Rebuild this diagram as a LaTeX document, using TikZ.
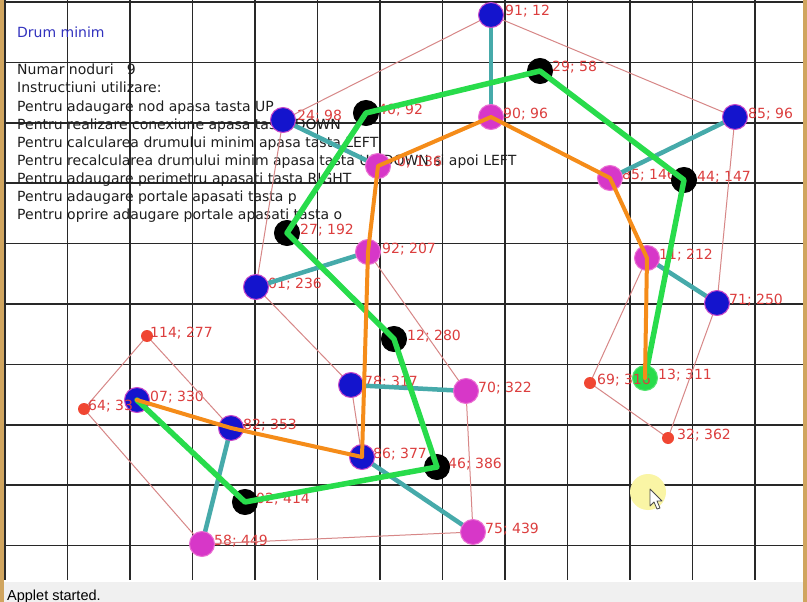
\documentclass[tikz,border=0pt]{standalone}
\usepackage{fontspec}
\setmainfont{DejaVu Sans}
\newfontfamily\statusfont{Liberation Sans}
\definecolor{gridc}{RGB}{40,40,40}
\definecolor{framec}{RGB}{208,165,95}
\definecolor{titleblue}{RGB}{50,50,190}
\definecolor{labred}{RGB}{220,62,62}
\definecolor{perimc}{RGB}{215,135,135}
\definecolor{tealc}{RGB}{70,170,170}
\definecolor{greenc}{RGB}{40,220,75}
\definecolor{orangec}{RGB}{245,140,25}
\definecolor{bluen}{RGB}{20,20,205}
\definecolor{magn}{RGB}{215,55,200}
\definecolor{ringc}{RGB}{200,70,200}
\definecolor{magring}{RGB}{235,110,210}
\definecolor{redn}{RGB}{240,70,50}
\definecolor{statusbg}{RGB}{240,240,240}
\definecolor{cursorhl}{RGB}{250,245,165}
\definecolor{textc}{RGB}{30,30,30}
\begin{document}
\begin{tikzpicture}[x=1pt,y=-1pt,
  bignode/.style={circle, minimum size=25pt, inner sep=0pt},
  bluenode/.style={bignode, fill=bluen, draw=ringc, line width=1pt},
  magnode/.style={bignode, fill=magn, draw=magring, line width=1pt},
  blacknode/.style={bignode, fill=black, draw=black, line width=1pt},
  greennode/.style={bignode, fill=greenc, draw=greenc!80!white, line width=1pt},
  portal/.style={circle, minimum size=12pt, inner sep=0pt, fill=redn},
  lab/.style={anchor=base west, inner sep=0pt, text=labred, font=\fontsize{14}{16}\selectfont},
  instr/.style={anchor=base west, inner sep=0pt, text=textc, font=\fontsize{14}{17}\selectfont},
  gridline/.style={draw=gridc, line width=1.6pt},
  perimline/.style={draw=perimc, line width=1pt},
  connline/.style={draw=tealc, line width=4.5pt},
  greenpath/.style={draw=greenc, line width=5.5pt, line join=round, line cap=round},
  orangepath/.style={draw=orangec, line width=4pt, line join=round, line cap=round}]
\useasboundingbox (0,0) rectangle (807,602);
% background
\fill[white] (0,0) rectangle (807,582);
\fill[statusbg] (0,582) rectangle (807,602);
% grid
\foreach \k in {0,...,12} {\draw[gridline] (5+62.5*\k,0) -- (5+62.5*\k,580);}
\foreach \k in {0,...,9} {\draw[gridline] (5,2+60.4*\k) -- (803,2+60.4*\k);}
% frame strips
\fill[framec] (0,0) rectangle (4,602);
\fill[framec] (803,0) rectangle (807,602);
% texts
\node[instr, text=titleblue] (title) at (17,38) {Drum minim};
\node[instr] (t1) at (17,75) {Numar noduri\hspace{13pt}9};
\node[instr] (t2) at (17,93) {Instructiuni utilizare:};
\node[instr] (t3) at (17,111) {Pentru adaugare nod apasa tasta UP};
\node[instr] (t4) at (17,129) {Pentru realizare conexiune apasa tasta DOWN};
\node[instr] (t5) at (17,147) {Pentru calcularea drumului minim apasa tasta LEFT};
\node[instr] (t6) at (17,165) {Pentru recalcularea drumului minim apasa tasta UP/DOWN si apoi LEFT};
\node[instr] (t7) at (17,183) {Pentru adaugare perimetru apasati tasta RIGHT};
\node[instr] (t8) at (17,201) {Pentru adaugare portale apasati tasta p};
\node[instr] (t9) at (17,219) {Pentru oprire adaugare portale apasati tasta o};
\node[anchor=base west, inner sep=0pt, font=\statusfont\fontsize{14.5}{16}\selectfont] (status) at (7,600) {Applet started.};
% vertex positions
\coordinate (v1) at (491,15);
\coordinate (v2) at (540,71);
\coordinate (v3) at (735,117);
\coordinate (v4) at (491,117);
\coordinate (v5) at (610,178);
\coordinate (v6) at (684,180);
\coordinate (v7) at (366,113);
\coordinate (v8) at (283,120);
\coordinate (v9) at (378,166);
\coordinate (v10) at (287,233);
\coordinate (v11) at (368,252);
\coordinate (v12) at (256,287);
\coordinate (v13) at (394,339);
\coordinate (v14) at (351,385);
\coordinate (v15) at (466,391);
\coordinate (v16) at (362,457);
\coordinate (v17) at (437,467);
\coordinate (v18) at (473,532);
\coordinate (v19) at (245,502);
\coordinate (v20) at (202,544);
\coordinate (v21) at (231,428);
\coordinate (v22) at (137,400);
\coordinate (v23) at (84,409);
\coordinate (v24) at (147,336);
\coordinate (v25) at (647,258);
\coordinate (v26) at (717,303);
\coordinate (v27) at (645,378);
\coordinate (v28) at (590,383);
\coordinate (v29) at (668,438);
% labels of large vertices
\node[lab] (l1) at (505,16) {91; 12};
\node[lab] (l2) at (552,72) {29; 58};
\node[lab] (l3) at (748,118) {85; 96};
\node[lab] (l4) at (503,118) {90; 96};
\node[lab] (l5) at (622,179) {85; 146};
\node[lab] (l6) at (697,181) {44; 147};
\node[lab] (l7) at (378,114) {40; 92};
\node[lab] (l8) at (297,121) {24; 98};
\node[lab] (l9) at (397,167) {0; 136};
\node[lab] (l10) at (300,234) {27; 192};
\node[lab] (l11) at (382,253) {92; 207};
\node[lab] (l12) at (268,288) {01; 236};
\node[lab] (l13) at (407,340) {12; 280};
\node[lab] (l14) at (364,386) {78; 317};
\node[lab] (l15) at (478,392) {70; 322};
\node[lab] (l16) at (373,458) {86; 377};
\node[lab] (l17) at (448,468) {46; 386};
\node[lab] (l18) at (485,533) {75; 439};
\node[lab] (l19) at (256,503) {02; 414};
\node[lab] (l20) at (214,545) {58; 449};
\node[lab] (l21) at (243,429) {82; 353};
\node[lab] (l22) at (150,401) {07; 330};
\node[lab] (l25) at (659,259) {11; 212};
\node[lab] (l26) at (729,304) {71; 250};
\node[lab] (l27) at (658,379) {13; 311};
% perimeter
\draw[perimline] (v8) -- (v1) -- (v3) -- (v26) -- (v29) -- (v28) -- (v25);
\draw[perimline] (v8) -- (v12) -- (v14) -- (v16);
\draw[perimline] (v11) -- (v15) -- (v18) -- (v20) -- (v23) -- (v24) -- (v21);
% connections
\draw[connline] (v1) -- (v4);
\draw[connline] (v8) -- (v9);
\draw[connline] (v3) -- (v5);
\draw[connline] (v12) -- (v11);
\draw[connline] (v25) -- (v26);
\draw[connline] (v14) -- (v15);
\draw[connline] (v16) -- (v18);
\draw[connline] (v21) -- (v20);
% vertices
\node[bluenode] (n1) at (v1) {};
\node[blacknode] (n2) at (v2) {};
\node[bluenode] (n3) at (v3) {};
\node[magnode] (n4) at (v4) {};
\node[magnode] (n5) at (v5) {};
\node[blacknode] (n6) at (v6) {};
\node[blacknode] (n7) at (v7) {};
\node[bluenode] (n8) at (v8) {};
\node[magnode] (n9) at (v9) {};
\node[blacknode] (n10) at (v10) {};
\node[magnode] (n11) at (v11) {};
\node[bluenode] (n12) at (v12) {};
\node[blacknode] (n13) at (v13) {};
\node[bluenode] (n14) at (v14) {};
\node[magnode] (n15) at (v15) {};
\node[bluenode] (n16) at (v16) {};
\node[blacknode] (n17) at (v17) {};
\node[magnode] (n18) at (v18) {};
\node[blacknode] (n19) at (v19) {};
\node[magnode] (n20) at (v20) {};
\node[bluenode] (n21) at (v21) {};
\node[bluenode] (n22) at (v22) {};
\node[portal] (n23) at (v23) {};
\node[portal] (n24) at (v24) {};
\node[magnode] (n25) at (v25) {};
\node[bluenode] (n26) at (v26) {};
\node[greennode] (n27) at (v27) {};
\node[portal] (n28) at (v28) {};
\node[portal] (n29) at (v29) {};
% portal labels
\node[lab] (l23) at (88,410) {64; 33};
\node[lab] (l24) at (150,337) {114; 277};
\node[lab] (l28) at (597,384) {69; 316};
\node[lab] (l29) at (677,439) {32; 362};
% paths
\draw[greenpath] (v22) -- (v19) -- (v17) -- (v13) -- (v10) -- (v7) -- (v2) -- (v6) -- (v27);
\draw[orangepath] (v22) -- (v21) -- (v16) -- (v11) -- (v9) -- (v4) -- (v5) -- (v25) -- (v27);
% cursor
\node[circle, fill=cursorhl, minimum size=36pt, inner sep=0pt] (hl) at (648,492) {};
\draw[fill=white, draw=black!70, line width=0.8pt, line join=round] (650,489) -- (650,506) -- (654,502) -- (657,509) -- (660,508) -- (657,501) -- (662,501) -- cycle;
\end{tikzpicture}
\end{document}
